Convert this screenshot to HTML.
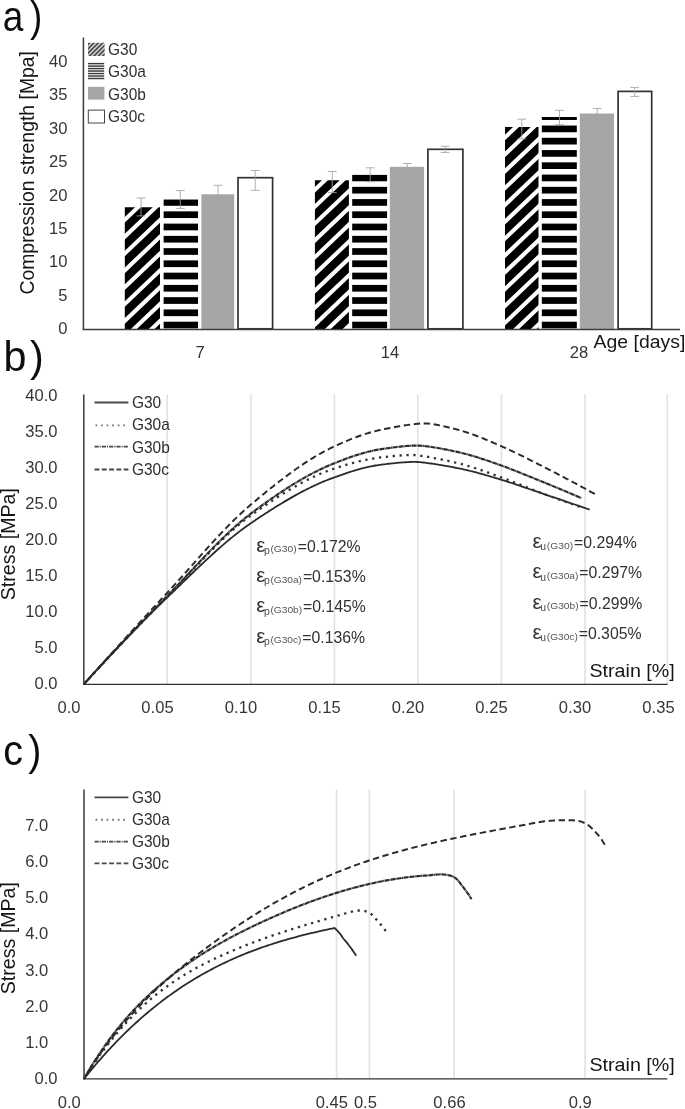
<!DOCTYPE html>
<html lang="en"><head><meta charset="utf-8"><title>Compression strength and stress-strain curves</title>
<style>
html,body{margin:0;padding:0;background:#fff;}
body{width:685px;height:1109px;overflow:hidden;font-family:"Liberation Sans",sans-serif;}
svg{display:block;}
svg text{font-family:"Liberation Sans",sans-serif;}
</style></head><body>
<svg width="685" height="1109" viewBox="0 0 685 1109">
<defs><filter id="soft" filterUnits="userSpaceOnUse" x="0" y="0" width="685" height="1109"><feGaussianBlur stdDeviation="0.4"/></filter></defs>
<rect width="685" height="1109" fill="#fff"/>
<g filter="url(#soft)">
<g id="panel-a">
<text transform="translate(2.8,30.6) scale(0.88,1)" font-size="42" fill="#111">a<tspan dx="7.5">)</tspan></text>
<text transform="translate(67.40,334.40) scale(1.0500,1)" font-size="15.8" fill="#363636" text-anchor="end" >0</text>
<text transform="translate(67.40,300.92) scale(1.0500,1)" font-size="15.8" fill="#363636" text-anchor="end" >5</text>
<text transform="translate(67.40,267.45) scale(1.0500,1)" font-size="15.8" fill="#363636" text-anchor="end" >10</text>
<text transform="translate(67.40,233.97) scale(1.0500,1)" font-size="15.8" fill="#363636" text-anchor="end" >15</text>
<text transform="translate(67.40,200.50) scale(1.0500,1)" font-size="15.8" fill="#363636" text-anchor="end" >20</text>
<text transform="translate(67.40,167.02) scale(1.0500,1)" font-size="15.8" fill="#363636" text-anchor="end" >25</text>
<text transform="translate(67.40,133.55) scale(1.0500,1)" font-size="15.8" fill="#363636" text-anchor="end" >30</text>
<text transform="translate(67.40,100.07) scale(1.0500,1)" font-size="15.8" fill="#363636" text-anchor="end" >35</text>
<text transform="translate(67.40,66.60) scale(1.0500,1)" font-size="15.8" fill="#363636" text-anchor="end" >40</text>
<text transform="translate(33.90,172.80) rotate(-90)" font-size="19.4" fill="#161616" text-anchor="middle" >Compression strength [Mpa]</text>
<text transform="translate(200.00,358.30) scale(1.0500,1)" font-size="15.8" fill="#363636" text-anchor="middle" >7</text>
<text transform="translate(390.00,358.30) scale(1.0500,1)" font-size="15.8" fill="#363636" text-anchor="middle" >14</text>
<text transform="translate(579.00,358.30) scale(1.0500,1)" font-size="15.8" fill="#363636" text-anchor="middle" >28</text>
<text transform="translate(593.60,348.00) scale(1.0500,1)" font-size="18.5" fill="#161616" text-anchor="start" >Age [days]</text>
<clipPath id="c1"><rect x="124.80" y="207.20" width="35.20" height="122.30"/></clipPath>
<g clip-path="url(#c1)" fill="#000">
<polygon points="122.80,190.82 162.00,153.52 162.00,164.72 122.80,202.02"/>
<polygon points="122.80,207.66 162.00,170.36 162.00,181.56 122.80,218.86"/>
<polygon points="122.80,224.50 162.00,187.20 162.00,198.40 122.80,235.70"/>
<polygon points="122.80,241.34 162.00,204.04 162.00,215.24 122.80,252.54"/>
<polygon points="122.80,258.18 162.00,220.88 162.00,232.08 122.80,269.38"/>
<polygon points="122.80,275.02 162.00,237.72 162.00,248.92 122.80,286.22"/>
<polygon points="122.80,291.86 162.00,254.56 162.00,265.76 122.80,303.06"/>
<polygon points="122.80,308.70 162.00,271.40 162.00,282.60 122.80,319.90"/>
<polygon points="122.80,325.54 162.00,288.24 162.00,299.44 122.80,336.74"/>
<polygon points="122.80,342.38 162.00,305.08 162.00,316.28 122.80,353.58"/>
<polygon points="122.80,359.22 162.00,321.92 162.00,333.12 122.80,370.42"/>
<polygon points="122.80,376.06 162.00,338.76 162.00,349.96 122.80,387.26"/>
</g>
<clipPath id="c2"><rect x="163.40" y="199.60" width="34.80" height="129.90"/></clipPath>
<g clip-path="url(#c2)" fill="#000">
<rect x="163.40" y="321.70" width="34.80" height="6.70"/>
<rect x="163.40" y="309.44" width="34.80" height="6.70"/>
<rect x="163.40" y="297.18" width="34.80" height="6.70"/>
<rect x="163.40" y="284.92" width="34.80" height="6.70"/>
<rect x="163.40" y="272.66" width="34.80" height="6.70"/>
<rect x="163.40" y="260.40" width="34.80" height="6.70"/>
<rect x="163.40" y="248.14" width="34.80" height="6.70"/>
<rect x="163.40" y="235.88" width="34.80" height="6.70"/>
<rect x="163.40" y="223.62" width="34.80" height="6.70"/>
<rect x="163.40" y="211.36" width="34.80" height="6.70"/>
<rect x="163.40" y="199.10" width="34.80" height="6.70"/>
</g>
<rect x="201.40" y="194.30" width="32.80" height="135.20" fill="#a6a6a6"/>
<rect x="238.00" y="177.70" width="34.60" height="151.10" fill="#fff" stroke="#333" stroke-width="1.7"/>
<clipPath id="c3"><rect x="314.90" y="180.20" width="34.00" height="149.30"/></clipPath>
<g clip-path="url(#c3)" fill="#000">
<polygon points="312.90,160.81 350.90,124.65 350.90,135.85 312.90,172.00"/>
<polygon points="312.90,177.65 350.90,141.49 350.90,152.69 312.90,188.84"/>
<polygon points="312.90,194.49 350.90,158.33 350.90,169.53 312.90,205.68"/>
<polygon points="312.90,211.33 350.90,175.17 350.90,186.37 312.90,222.52"/>
<polygon points="312.90,228.17 350.90,192.01 350.90,203.21 312.90,239.36"/>
<polygon points="312.90,245.01 350.90,208.85 350.90,220.05 312.90,256.20"/>
<polygon points="312.90,261.85 350.90,225.69 350.90,236.89 312.90,273.04"/>
<polygon points="312.90,278.69 350.90,242.53 350.90,253.73 312.90,289.88"/>
<polygon points="312.90,295.53 350.90,259.37 350.90,270.57 312.90,306.72"/>
<polygon points="312.90,312.37 350.90,276.21 350.90,287.41 312.90,323.56"/>
<polygon points="312.90,329.21 350.90,293.05 350.90,304.25 312.90,340.40"/>
<polygon points="312.90,346.05 350.90,309.89 350.90,321.09 312.90,357.24"/>
<polygon points="312.90,362.89 350.90,326.73 350.90,337.93 312.90,374.08"/>
<polygon points="312.90,379.73 350.90,343.57 350.90,354.77 312.90,390.92"/>
</g>
<clipPath id="c4"><rect x="352.10" y="174.70" width="35.20" height="154.80"/></clipPath>
<g clip-path="url(#c4)" fill="#000">
<rect x="352.10" y="321.70" width="35.20" height="6.70"/>
<rect x="352.10" y="309.44" width="35.20" height="6.70"/>
<rect x="352.10" y="297.18" width="35.20" height="6.70"/>
<rect x="352.10" y="284.92" width="35.20" height="6.70"/>
<rect x="352.10" y="272.66" width="35.20" height="6.70"/>
<rect x="352.10" y="260.40" width="35.20" height="6.70"/>
<rect x="352.10" y="248.14" width="35.20" height="6.70"/>
<rect x="352.10" y="235.88" width="35.20" height="6.70"/>
<rect x="352.10" y="223.62" width="35.20" height="6.70"/>
<rect x="352.10" y="211.36" width="35.20" height="6.70"/>
<rect x="352.10" y="199.10" width="35.20" height="6.70"/>
<rect x="352.10" y="186.84" width="35.20" height="6.70"/>
<rect x="352.10" y="174.58" width="35.20" height="6.70"/>
</g>
<rect x="389.80" y="166.80" width="34.30" height="162.70" fill="#a6a6a6"/>
<rect x="427.90" y="149.30" width="35.00" height="179.50" fill="#fff" stroke="#333" stroke-width="1.7"/>
<clipPath id="c5"><rect x="505.00" y="127.10" width="33.50" height="202.40"/></clipPath>
<g clip-path="url(#c5)" fill="#000">
<polygon points="503.00,108.52 540.50,72.84 540.50,84.04 503.00,119.71"/>
<polygon points="503.00,125.36 540.50,89.68 540.50,100.88 503.00,136.55"/>
<polygon points="503.00,142.20 540.50,106.52 540.50,117.72 503.00,153.39"/>
<polygon points="503.00,159.04 540.50,123.36 540.50,134.56 503.00,170.23"/>
<polygon points="503.00,175.88 540.50,140.20 540.50,151.40 503.00,187.07"/>
<polygon points="503.00,192.72 540.50,157.04 540.50,168.24 503.00,203.91"/>
<polygon points="503.00,209.56 540.50,173.88 540.50,185.08 503.00,220.75"/>
<polygon points="503.00,226.40 540.50,190.72 540.50,201.92 503.00,237.59"/>
<polygon points="503.00,243.24 540.50,207.56 540.50,218.76 503.00,254.43"/>
<polygon points="503.00,260.08 540.50,224.40 540.50,235.60 503.00,271.27"/>
<polygon points="503.00,276.92 540.50,241.24 540.50,252.44 503.00,288.11"/>
<polygon points="503.00,293.76 540.50,258.08 540.50,269.28 503.00,304.95"/>
<polygon points="503.00,310.60 540.50,274.92 540.50,286.12 503.00,321.79"/>
<polygon points="503.00,327.44 540.50,291.76 540.50,302.96 503.00,338.63"/>
<polygon points="503.00,344.28 540.50,308.60 540.50,319.80 503.00,355.47"/>
<polygon points="503.00,361.12 540.50,325.44 540.50,336.64 503.00,372.31"/>
<polygon points="503.00,377.96 540.50,342.28 540.50,353.48 503.00,389.15"/>
</g>
<clipPath id="c6"><rect x="541.60" y="117.00" width="35.30" height="212.50"/></clipPath>
<g clip-path="url(#c6)" fill="#000">
<rect x="541.60" y="321.70" width="35.30" height="6.70"/>
<rect x="541.60" y="309.44" width="35.30" height="6.70"/>
<rect x="541.60" y="297.18" width="35.30" height="6.70"/>
<rect x="541.60" y="284.92" width="35.30" height="6.70"/>
<rect x="541.60" y="272.66" width="35.30" height="6.70"/>
<rect x="541.60" y="260.40" width="35.30" height="6.70"/>
<rect x="541.60" y="248.14" width="35.30" height="6.70"/>
<rect x="541.60" y="235.88" width="35.30" height="6.70"/>
<rect x="541.60" y="223.62" width="35.30" height="6.70"/>
<rect x="541.60" y="211.36" width="35.30" height="6.70"/>
<rect x="541.60" y="199.10" width="35.30" height="6.70"/>
<rect x="541.60" y="186.84" width="35.30" height="6.70"/>
<rect x="541.60" y="174.58" width="35.30" height="6.70"/>
<rect x="541.60" y="162.32" width="35.30" height="6.70"/>
<rect x="541.60" y="150.06" width="35.30" height="6.70"/>
<rect x="541.60" y="137.80" width="35.30" height="6.70"/>
<rect x="541.60" y="125.54" width="35.30" height="6.70"/>
<rect x="541.60" y="113.28" width="35.30" height="6.70"/>
</g>
<rect x="579.80" y="113.50" width="34.20" height="216.00" fill="#a6a6a6"/>
<rect x="618.10" y="91.40" width="33.60" height="237.40" fill="#fff" stroke="#333" stroke-width="1.7"/>
<line x1="83.40" y1="37.60" x2="83.40" y2="329.50" stroke="#3a3a3a" stroke-width="1.5" />
<line x1="82.70" y1="329.60" x2="680.00" y2="329.60" stroke="#3c3c3c" stroke-width="1.5" />
<path d="M141.00 198.00V215.90M136.60 198.00H145.40M136.60 215.90H145.40" stroke="#a0a0a0" stroke-width="0.85" fill="none"/>
<path d="M180.30 190.60V208.40M175.90 190.60H184.70M175.90 208.40H184.70" stroke="#a0a0a0" stroke-width="0.85" fill="none"/>
<path d="M218.00 185.30V202.70M213.60 185.30H222.40M213.60 202.70H222.40" stroke="#a0a0a0" stroke-width="0.85" fill="none"/>
<path d="M255.20 170.50V190.30M250.80 170.50H259.60M250.80 190.30H259.60" stroke="#a0a0a0" stroke-width="0.85" fill="none"/>
<path d="M332.30 171.50V192.60M327.90 171.50H336.70M327.90 192.60H336.70" stroke="#a0a0a0" stroke-width="0.85" fill="none"/>
<path d="M370.20 167.80V181.70M365.80 167.80H374.60M365.80 181.70H374.60" stroke="#a0a0a0" stroke-width="0.85" fill="none"/>
<path d="M407.20 163.50V170.50M402.80 163.50H411.60M402.80 170.50H411.60" stroke="#a0a0a0" stroke-width="0.85" fill="none"/>
<path d="M445.20 146.20V152.40M440.80 146.20H449.60M440.80 152.40H449.60" stroke="#a0a0a0" stroke-width="0.85" fill="none"/>
<path d="M521.80 119.20V138.80M517.40 119.20H526.20M517.40 138.80H526.20" stroke="#a0a0a0" stroke-width="0.85" fill="none"/>
<path d="M559.50 110.30V124.70M555.10 110.30H563.90M555.10 124.70H563.90" stroke="#a0a0a0" stroke-width="0.85" fill="none"/>
<path d="M597.20 108.50V119.20M592.80 108.50H601.60M592.80 119.20H601.60" stroke="#a0a0a0" stroke-width="0.85" fill="none"/>
<path d="M634.70 87.40V96.40M630.30 87.40H639.10M630.30 96.40H639.10" stroke="#a0a0a0" stroke-width="0.85" fill="none"/>
<clipPath id="lg1"><rect x="88.0" y="42.8" width="16.60" height="13.2"/></clipPath>
<rect x="88" y="42.8" width="16.6" height="13.2" fill="#cfcfcf"/>
<g clip-path="url(#lg1)">
<line x1="66.60" y1="57.00" x2="81.60" y2="42.00" stroke="#444" stroke-width="1.55" />
<line x1="71.00" y1="57.00" x2="86.00" y2="42.00" stroke="#444" stroke-width="1.55" />
<line x1="75.40" y1="57.00" x2="90.40" y2="42.00" stroke="#444" stroke-width="1.55" />
<line x1="79.80" y1="57.00" x2="94.80" y2="42.00" stroke="#444" stroke-width="1.55" />
<line x1="84.20" y1="57.00" x2="99.20" y2="42.00" stroke="#444" stroke-width="1.55" />
<line x1="88.60" y1="57.00" x2="103.60" y2="42.00" stroke="#444" stroke-width="1.55" />
<line x1="93.00" y1="57.00" x2="108.00" y2="42.00" stroke="#444" stroke-width="1.55" />
<line x1="97.40" y1="57.00" x2="112.40" y2="42.00" stroke="#444" stroke-width="1.55" />
<line x1="101.80" y1="57.00" x2="116.80" y2="42.00" stroke="#444" stroke-width="1.55" />
<line x1="106.20" y1="57.00" x2="121.20" y2="42.00" stroke="#444" stroke-width="1.55" />
<line x1="110.60" y1="57.00" x2="125.60" y2="42.00" stroke="#444" stroke-width="1.55" />
<line x1="115.00" y1="57.00" x2="130.00" y2="42.00" stroke="#444" stroke-width="1.55" />
<line x1="119.40" y1="57.00" x2="134.40" y2="42.00" stroke="#444" stroke-width="1.55" />
</g>
<rect x="88.0" y="62.90" width="16.20" height="1.45" fill="#3a3a3a"/>
<rect x="88.0" y="65.38" width="16.20" height="1.45" fill="#3a3a3a"/>
<rect x="88.0" y="67.86" width="16.20" height="1.45" fill="#3a3a3a"/>
<rect x="88.0" y="70.34" width="16.20" height="1.45" fill="#3a3a3a"/>
<rect x="88.0" y="72.82" width="16.20" height="1.45" fill="#3a3a3a"/>
<rect x="88.0" y="75.30" width="16.20" height="1.45" fill="#3a3a3a"/>
<rect x="88.0" y="77.78" width="16.20" height="1.45" fill="#3a3a3a"/>
<rect x="88.0" y="86.8" width="16.40" height="12.8" fill="#a6a6a6"/>
<rect x="88.3" y="110.1" width="16.20" height="12.9" fill="#fff" stroke="#444" stroke-width="1"/>
<text transform="translate(108.00,55.40) scale(0.9800,1)" font-size="15.8" fill="#2e2e2e" text-anchor="start" >G30</text>
<text transform="translate(108.00,77.40) scale(0.9800,1)" font-size="15.8" fill="#2e2e2e" text-anchor="start" >G30a</text>
<text transform="translate(108.00,99.70) scale(0.9800,1)" font-size="15.8" fill="#2e2e2e" text-anchor="start" >G30b</text>
<text transform="translate(108.00,122.30) scale(0.9800,1)" font-size="15.8" fill="#2e2e2e" text-anchor="start" >G30c</text>
</g>
<g id="panel-b">
<text transform="translate(3.6,370.6) scale(0.96,1)" font-size="43" fill="#111">b<tspan dx="3.6">)</tspan></text>
<line x1="167.15" y1="394.40" x2="167.15" y2="684.40" stroke="#e3e3e3" stroke-width="1.7" />
<line x1="250.80" y1="394.40" x2="250.80" y2="684.40" stroke="#e3e3e3" stroke-width="1.7" />
<line x1="334.40" y1="394.40" x2="334.40" y2="684.40" stroke="#e3e3e3" stroke-width="1.7" />
<line x1="417.80" y1="394.40" x2="417.80" y2="684.40" stroke="#e3e3e3" stroke-width="1.7" />
<line x1="501.40" y1="394.40" x2="501.40" y2="684.40" stroke="#e3e3e3" stroke-width="1.7" />
<line x1="585.00" y1="394.40" x2="585.00" y2="684.40" stroke="#e3e3e3" stroke-width="1.7" />
<line x1="667.30" y1="394.40" x2="667.30" y2="684.40" stroke="#e3e3e3" stroke-width="1.7" />
<text transform="translate(57.60,689.40) scale(1.0500,1)" font-size="15.8" fill="#363636" text-anchor="end" >0.0</text>
<text transform="translate(57.60,653.32) scale(1.0500,1)" font-size="15.8" fill="#363636" text-anchor="end" >5.0</text>
<text transform="translate(57.60,617.25) scale(1.0500,1)" font-size="15.8" fill="#363636" text-anchor="end" >10.0</text>
<text transform="translate(57.60,581.17) scale(1.0500,1)" font-size="15.8" fill="#363636" text-anchor="end" >15.0</text>
<text transform="translate(57.60,545.10) scale(1.0500,1)" font-size="15.8" fill="#363636" text-anchor="end" >20.0</text>
<text transform="translate(57.60,509.02) scale(1.0500,1)" font-size="15.8" fill="#363636" text-anchor="end" >25.0</text>
<text transform="translate(57.60,472.95) scale(1.0500,1)" font-size="15.8" fill="#363636" text-anchor="end" >30.0</text>
<text transform="translate(57.60,436.88) scale(1.0500,1)" font-size="15.8" fill="#363636" text-anchor="end" >35.0</text>
<text transform="translate(57.60,400.80) scale(1.0500,1)" font-size="15.8" fill="#363636" text-anchor="end" >40.0</text>
<text transform="translate(15.00,544.20) rotate(-90)" font-size="19.6" fill="#161616" text-anchor="middle" >Stress [MPa]</text>
<text transform="translate(69.00,712.50) scale(1.0500,1)" font-size="15.8" fill="#363636" text-anchor="middle" >0.0</text>
<text transform="translate(157.50,712.50) scale(1.0500,1)" font-size="15.8" fill="#363636" text-anchor="middle" >0.05</text>
<text transform="translate(241.00,712.50) scale(1.0500,1)" font-size="15.8" fill="#363636" text-anchor="middle" >0.10</text>
<text transform="translate(324.50,712.50) scale(1.0500,1)" font-size="15.8" fill="#363636" text-anchor="middle" >0.15</text>
<text transform="translate(408.00,712.50) scale(1.0500,1)" font-size="15.8" fill="#363636" text-anchor="middle" >0.20</text>
<text transform="translate(491.50,712.50) scale(1.0500,1)" font-size="15.8" fill="#363636" text-anchor="middle" >0.25</text>
<text transform="translate(575.00,712.50) scale(1.0500,1)" font-size="15.8" fill="#363636" text-anchor="middle" >0.30</text>
<text transform="translate(658.50,712.50) scale(1.0500,1)" font-size="15.8" fill="#363636" text-anchor="middle" >0.35</text>
<text transform="translate(589.40,677.00) scale(1.0600,1)" font-size="18.6" fill="#161616" text-anchor="start" >Strain [%]</text>
<path d="M84.00 684.00 L85.00 682.88 L86.01 681.77 L87.01 680.66 L88.02 679.54 L89.02 678.43 L90.03 677.32 L91.03 676.20 L92.04 675.09 L93.05 673.98 L94.06 672.87 L95.07 671.76 L96.08 670.66 L97.09 669.55 L98.11 668.44 L99.12 667.34 L100.14 666.23 L101.15 665.13 L102.17 664.03 L103.19 662.93 L104.20 661.82 L105.22 660.72 L106.24 659.62 L107.26 658.53 L108.29 657.43 L109.31 656.33 L110.33 655.23 L111.36 654.14 L112.39 653.05 L113.41 651.95 L114.44 650.86 L115.47 649.77 L116.50 648.68 L117.53 647.59 L118.56 646.50 L119.59 645.41 L120.63 644.32 L121.66 643.24 L122.70 642.15 L123.73 641.07 L124.77 639.99 L125.81 638.90 L126.85 637.82 L127.89 636.74 L128.93 635.66 L129.98 634.59 L131.02 633.51 L132.07 632.43 L133.11 631.36 L134.16 630.28 L135.21 629.21 L136.26 628.14 L137.31 627.07 L138.36 626.00 L139.41 624.93 L140.46 623.86 L141.52 622.79 L142.57 621.73 L143.63 620.66 L144.69 619.60 L145.75 618.54 L146.81 617.48 L147.87 616.42 L148.93 615.36 L149.99 614.30 L151.06 613.24 L152.13 612.19 L153.19 611.13 L154.26 610.08 L155.33 609.03 L156.40 607.98 L157.47 606.93 L158.54 605.88 L159.62 604.83 L160.69 603.79 L161.77 602.74 L162.85 601.70 L163.93 600.66 L165.01 599.61 L166.09 598.57 L167.17 597.53 L168.25 596.49 L169.33 595.45 L170.41 594.41 L171.49 593.37 L172.57 592.33 L173.65 591.29 L174.73 590.25 L175.80 589.20 L176.88 588.16 L177.96 587.12 L179.04 586.07 L180.12 585.03 L181.19 583.99 L182.27 582.94 L183.35 581.90 L184.42 580.85 L185.50 579.81 L186.58 578.77 L187.66 577.73 L188.74 576.68 L189.82 575.64 L190.90 574.60 L191.98 573.56 L193.06 572.52 L194.14 571.48 L195.22 570.44 L196.31 569.41 L197.39 568.37 L198.48 567.34 L199.57 566.30 L200.65 565.27 L201.75 564.24 L202.84 563.21 L203.93 562.19 L205.02 561.16 L206.12 560.14 L207.22 559.12 L208.32 558.10 L209.42 557.08 L210.53 556.06 L211.63 555.05 L212.74 554.04 L213.85 553.03 L214.97 552.03 L216.08 551.03 L217.20 550.03 L218.32 549.03 L219.45 548.04 L220.57 547.05 L221.70 546.06 L222.84 545.08 L223.97 544.10 L225.11 543.12 L226.25 542.15 L227.40 541.18 L228.55 540.22 L229.70 539.26 L230.86 538.31 L232.02 537.36 L233.19 536.41 L234.36 535.47 L235.53 534.54 L236.71 533.61 L237.89 532.69 L239.08 531.77 L240.27 530.86 L241.47 529.96 L242.67 529.06 L243.88 528.17 L245.09 527.29 L246.30 526.41 L247.53 525.54 L248.75 524.68 L249.99 523.82 L251.22 522.97 L252.46 522.13 L253.70 521.29 L254.94 520.45 L256.19 519.61 L257.44 518.78 L258.68 517.94 L259.93 517.12 L261.19 516.29 L262.44 515.46 L263.69 514.64 L264.95 513.82 L266.21 513.00 L267.47 512.19 L268.73 511.38 L269.99 510.57 L271.26 509.76 L272.52 508.96 L273.79 508.16 L275.06 507.36 L276.34 506.57 L277.61 505.78 L278.89 504.99 L280.17 504.21 L281.45 503.43 L282.73 502.66 L284.02 501.89 L285.31 501.12 L286.60 500.36 L287.90 499.60 L289.19 498.85 L290.49 498.10 L291.80 497.35 L293.10 496.62 L294.41 495.88 L295.72 495.15 L297.03 494.43 L298.35 493.71 L299.67 493.00 L300.99 492.29 L302.32 491.59 L303.65 490.90 L304.98 490.21 L306.32 489.53 L307.66 488.86 L309.00 488.19 L310.35 487.53 L311.70 486.87 L313.05 486.23 L314.41 485.59 L315.77 484.96 L317.13 484.33 L318.50 483.72 L319.87 483.11 L321.25 482.52 L322.63 481.93 L324.01 481.35 L325.40 480.78 L326.79 480.21 L328.18 479.66 L329.58 479.12 L330.98 478.59 L332.39 478.06 L333.80 477.54 L335.21 477.03 L336.62 476.53 L338.03 476.03 L339.45 475.53 L340.87 475.04 L342.28 474.55 L343.70 474.07 L345.12 473.58 L346.55 473.11 L347.97 472.64 L349.40 472.17 L350.82 471.71 L352.25 471.26 L353.69 470.82 L355.12 470.38 L356.56 469.95 L358.00 469.53 L359.44 469.13 L360.89 468.73 L362.34 468.35 L363.79 467.97 L365.25 467.61 L366.70 467.27 L368.17 466.93 L369.63 466.62 L371.10 466.31 L372.57 466.03 L374.05 465.76 L375.53 465.51 L377.01 465.27 L378.49 465.05 L379.97 464.84 L381.46 464.65 L382.95 464.46 L384.44 464.28 L385.93 464.10 L387.42 463.92 L388.91 463.75 L390.40 463.59 L391.89 463.43 L393.38 463.27 L394.87 463.12 L396.37 462.97 L397.86 462.83 L399.35 462.70 L400.85 462.57 L402.34 462.46 L403.84 462.35 L405.34 462.25 L406.83 462.16 L408.33 462.08 L409.83 462.02 L411.33 461.97 L412.82 461.93 L414.32 461.93 L415.82 461.95 L417.31 462.00 L418.81 462.09 L420.30 462.20 L421.79 462.35 L423.28 462.51 L424.77 462.69 L426.26 462.88 L427.75 463.08 L429.23 463.28 L430.72 463.49 L432.20 463.71 L433.68 463.93 L435.17 464.15 L436.65 464.38 L438.13 464.62 L439.61 464.86 L441.09 465.11 L442.57 465.36 L444.05 465.61 L445.53 465.87 L447.00 466.13 L448.48 466.40 L449.95 466.67 L451.43 466.94 L452.90 467.22 L454.38 467.50 L455.85 467.79 L457.32 468.08 L458.79 468.38 L460.26 468.68 L461.73 468.99 L463.19 469.30 L464.66 469.62 L466.12 469.96 L467.58 470.30 L469.04 470.64 L470.50 471.00 L471.95 471.36 L473.41 471.73 L474.86 472.11 L476.31 472.49 L477.76 472.88 L479.20 473.28 L480.65 473.68 L482.09 474.08 L483.54 474.49 L484.98 474.90 L486.42 475.32 L487.86 475.74 L489.30 476.16 L490.74 476.58 L492.18 477.01 L493.61 477.44 L495.05 477.87 L496.49 478.30 L497.92 478.73 L499.36 479.16 L500.80 479.60 L502.23 480.03 L503.67 480.48 L505.10 480.92 L506.53 481.37 L507.96 481.82 L509.39 482.28 L510.81 482.74 L512.24 483.21 L513.66 483.68 L515.09 484.15 L516.51 484.63 L517.93 485.11 L519.35 485.59 L520.77 486.08 L522.19 486.56 L523.61 487.05 L525.02 487.54 L526.44 488.03 L527.86 488.52 L529.28 489.01 L530.69 489.50 L532.11 489.99 L533.53 490.48 L534.95 490.97 L536.37 491.46 L537.79 491.94 L539.21 492.43 L540.63 492.91 L542.05 493.39 L543.47 493.87 L544.89 494.35 L546.31 494.83 L547.73 495.32 L549.15 495.80 L550.57 496.28 L551.99 496.76 L553.41 497.24 L554.83 497.72 L556.25 498.21 L557.67 498.69 L559.09 499.17 L560.51 499.65 L561.93 500.14 L563.35 500.62 L564.77 501.10 L566.19 501.59 L567.61 502.07 L569.03 502.56 L570.45 503.04 L571.87 503.53 L573.29 504.01 L574.71 504.50 L576.13 504.98 L577.55 505.47 L578.97 505.95 L580.38 506.44 L581.79 506.92 L583.18 507.40 L584.55 507.86 L585.87 508.32 L587.15 508.76 L588.39 509.18 L589.60 509.60" fill="none" stroke="#2c2c2c" stroke-width="1.8" stroke-linejoin="round" />
<path d="M84.00 684.00 L85.01 682.89 L86.03 681.79 L87.04 680.68 L88.06 679.58 L89.07 678.47 L90.09 677.37 L91.10 676.27 L92.12 675.16 L93.14 674.06 L94.15 672.96 L95.17 671.86 L96.19 670.76 L97.21 669.65 L98.23 668.55 L99.25 667.45 L100.27 666.35 L101.29 665.26 L102.31 664.16 L103.33 663.06 L104.35 661.96 L105.38 660.86 L106.40 659.77 L107.42 658.67 L108.45 657.58 L109.47 656.48 L110.50 655.39 L111.52 654.29 L112.55 653.20 L113.58 652.10 L114.61 651.01 L115.63 649.92 L116.66 648.83 L117.69 647.74 L118.72 646.64 L119.75 645.55 L120.78 644.46 L121.81 643.38 L122.84 642.29 L123.88 641.20 L124.91 640.11 L125.94 639.02 L126.98 637.94 L128.01 636.85 L129.05 635.76 L130.08 634.68 L131.12 633.59 L132.15 632.51 L133.19 631.43 L134.23 630.34 L135.27 629.26 L136.31 628.18 L137.34 627.10 L138.38 626.02 L139.43 624.93 L140.47 623.85 L141.51 622.78 L142.55 621.70 L143.59 620.62 L144.64 619.54 L145.68 618.46 L146.72 617.39 L147.77 616.31 L148.81 615.23 L149.86 614.16 L150.91 613.08 L151.95 612.01 L153.00 610.94 L154.05 609.86 L155.10 608.79 L156.15 607.72 L157.20 606.65 L158.25 605.58 L159.30 604.51 L160.35 603.44 L161.40 602.37 L162.46 601.30 L163.51 600.23 L164.56 599.17 L165.62 598.10 L166.67 597.03 L167.72 595.96 L168.78 594.89 L169.83 593.82 L170.88 592.75 L171.92 591.68 L172.97 590.60 L174.01 589.52 L175.05 588.45 L176.10 587.37 L177.14 586.28 L178.17 585.20 L179.21 584.12 L180.25 583.03 L181.28 581.95 L182.32 580.86 L183.35 579.77 L184.38 578.69 L185.41 577.60 L186.44 576.51 L187.48 575.42 L188.51 574.33 L189.54 573.24 L190.57 572.15 L191.60 571.06 L192.63 569.97 L193.66 568.88 L194.69 567.79 L195.72 566.70 L196.76 565.61 L197.79 564.53 L198.82 563.44 L199.86 562.36 L200.90 561.27 L201.93 560.19 L202.97 559.10 L204.01 558.02 L205.05 556.94 L206.09 555.86 L207.14 554.79 L208.18 553.71 L209.23 552.64 L210.28 551.57 L211.33 550.50 L212.39 549.43 L213.44 548.37 L214.50 547.30 L215.56 546.24 L216.63 545.19 L217.69 544.13 L218.76 543.08 L219.84 542.03 L220.91 540.99 L221.99 539.95 L223.08 538.91 L224.16 537.87 L225.25 536.84 L226.35 535.82 L227.45 534.80 L228.55 533.78 L229.66 532.77 L230.77 531.76 L231.88 530.76 L233.01 529.77 L234.13 528.78 L235.26 527.79 L236.40 526.81 L237.54 525.84 L238.69 524.88 L239.85 523.92 L241.01 522.97 L242.17 522.03 L243.35 521.09 L244.53 520.17 L245.72 519.25 L246.91 518.34 L248.11 517.44 L249.32 516.55 L250.53 515.67 L251.74 514.79 L252.96 513.92 L254.19 513.05 L255.41 512.19 L256.64 511.32 L257.87 510.46 L259.10 509.61 L260.33 508.75 L261.56 507.90 L262.80 507.05 L264.04 506.20 L265.28 505.35 L266.52 504.51 L267.76 503.67 L269.00 502.83 L270.25 502.00 L271.50 501.17 L272.75 500.34 L274.00 499.51 L275.26 498.69 L276.52 497.88 L277.78 497.06 L279.04 496.25 L280.31 495.45 L281.57 494.65 L282.84 493.85 L284.12 493.06 L285.40 492.27 L286.67 491.49 L287.96 490.71 L289.24 489.94 L290.53 489.17 L291.82 488.41 L293.12 487.66 L294.42 486.91 L295.72 486.16 L297.03 485.43 L298.34 484.70 L299.65 483.97 L300.97 483.25 L302.29 482.54 L303.61 481.84 L304.94 481.14 L306.28 480.46 L307.61 479.78 L308.95 479.11 L310.30 478.44 L311.65 477.79 L313.00 477.14 L314.36 476.51 L315.72 475.88 L317.09 475.26 L318.46 474.66 L319.84 474.06 L321.22 473.47 L322.60 472.90 L323.99 472.34 L325.39 471.78 L326.79 471.24 L328.19 470.72 L329.60 470.20 L331.01 469.70 L332.43 469.20 L333.85 468.72 L335.27 468.25 L336.70 467.78 L338.12 467.33 L339.55 466.87 L340.99 466.43 L342.42 465.99 L343.86 465.55 L345.29 465.12 L346.73 464.70 L348.17 464.28 L349.61 463.87 L351.06 463.47 L352.51 463.07 L353.96 462.69 L355.41 462.31 L356.86 461.94 L358.31 461.57 L359.77 461.22 L361.23 460.88 L362.70 460.55 L364.16 460.22 L365.63 459.91 L367.10 459.61 L368.57 459.33 L370.04 459.05 L371.52 458.79 L373.00 458.54 L374.48 458.30 L375.96 458.08 L377.45 457.87 L378.93 457.67 L380.42 457.48 L381.91 457.30 L383.40 457.12 L384.89 456.95 L386.38 456.78 L387.87 456.62 L389.36 456.46 L390.85 456.30 L392.35 456.15 L393.84 456.01 L395.33 455.87 L396.83 455.74 L398.32 455.61 L399.82 455.49 L401.31 455.38 L402.81 455.28 L404.30 455.19 L405.80 455.11 L407.30 455.04 L408.80 455.00 L410.29 454.97 L411.79 454.98 L413.28 455.02 L414.78 455.11 L416.27 455.23 L417.76 455.38 L419.24 455.57 L420.73 455.77 L422.21 455.99 L423.69 456.21 L425.17 456.45 L426.65 456.69 L428.13 456.94 L429.61 457.20 L431.09 457.46 L432.56 457.73 L434.04 458.01 L435.51 458.29 L436.98 458.57 L438.45 458.87 L439.92 459.16 L441.39 459.47 L442.86 459.77 L444.33 460.09 L445.79 460.40 L447.26 460.73 L448.72 461.05 L450.19 461.38 L451.65 461.72 L453.11 462.06 L454.57 462.40 L456.03 462.75 L457.49 463.11 L458.94 463.46 L460.40 463.83 L461.85 464.21 L463.30 464.59 L464.75 464.98 L466.19 465.39 L467.63 465.80 L469.07 466.23 L470.50 466.66 L471.94 467.11 L473.37 467.56 L474.79 468.02 L476.22 468.49 L477.64 468.96 L479.06 469.45 L480.48 469.93 L481.90 470.42 L483.31 470.92 L484.73 471.42 L486.14 471.92 L487.55 472.43 L488.96 472.94 L490.37 473.45 L491.78 473.96 L493.19 474.48 L494.60 474.99 L496.01 475.51 L497.42 476.02 L498.83 476.53 L500.24 477.05 L501.65 477.56 L503.06 478.08 L504.46 478.60 L505.87 479.12 L507.27 479.65 L508.67 480.19 L510.07 480.72 L511.47 481.26 L512.87 481.81 L514.27 482.36 L515.66 482.91 L517.06 483.46 L518.45 484.01 L519.84 484.57 L521.24 485.13 L522.63 485.68 L524.02 486.24 L525.41 486.80 L526.81 487.35 L528.20 487.91 L529.60 488.46 L530.99 489.01 L532.39 489.56 L533.78 490.11 L535.18 490.65 L536.58 491.19 L537.98 491.72 L539.39 492.26 L540.79 492.78 L542.19 493.31 L543.60 493.84 L545.01 494.36 L546.41 494.88 L547.82 495.40 L549.23 495.92 L550.63 496.43 L552.04 496.95 L553.45 497.46 L554.86 497.98 L556.27 498.49 L557.68 499.00 L559.09 499.51 L560.50 500.02 L561.92 500.52 L563.33 501.03 L564.74 501.53 L566.15 502.04 L567.57 502.54 L568.98 503.04 L570.39 503.54 L571.80 504.03 L573.21 504.52 L574.59 505.01 L575.95 505.48 L577.26 505.94 L578.51 506.37 L579.72 506.79 L580.90 507.20" fill="none" stroke="#333" stroke-width="2.3" stroke-linejoin="round" stroke-dasharray="2.3 4.6"/>
<path d="M84.00 684.00 L85.01 682.89 L86.03 681.79 L87.04 680.68 L88.05 679.58 L89.07 678.47 L90.08 677.37 L91.10 676.26 L92.11 675.16 L93.13 674.05 L94.14 672.95 L95.16 671.85 L96.18 670.74 L97.20 669.64 L98.21 668.54 L99.23 667.44 L100.25 666.34 L101.27 665.24 L102.29 664.14 L103.31 663.04 L104.33 661.94 L105.35 660.84 L106.37 659.74 L107.39 658.64 L108.42 657.55 L109.44 656.45 L110.46 655.35 L111.49 654.26 L112.51 653.16 L113.54 652.06 L114.56 650.97 L115.59 649.88 L116.61 648.78 L117.64 647.69 L118.67 646.59 L119.69 645.50 L120.72 644.41 L121.75 643.32 L122.78 642.22 L123.81 641.13 L124.84 640.04 L125.87 638.95 L126.90 637.86 L127.93 636.77 L128.96 635.68 L129.99 634.60 L131.03 633.51 L132.06 632.42 L133.09 631.33 L134.13 630.25 L135.16 629.16 L136.20 628.08 L137.23 626.99 L138.27 625.91 L139.30 624.82 L140.34 623.74 L141.38 622.65 L142.42 621.57 L143.45 620.49 L144.49 619.41 L145.53 618.32 L146.57 617.24 L147.61 616.16 L148.65 615.08 L149.70 614.00 L150.74 612.92 L151.78 611.85 L152.82 610.77 L153.87 609.69 L154.91 608.61 L155.95 607.54 L157.00 606.46 L158.04 605.38 L159.09 604.31 L160.14 603.23 L161.18 602.16 L162.23 601.09 L163.28 600.01 L164.33 598.94 L165.37 597.87 L166.42 596.79 L167.47 595.72 L168.52 594.64 L169.56 593.57 L170.61 592.49 L171.65 591.41 L172.69 590.33 L173.73 589.25 L174.77 588.17 L175.80 587.08 L176.84 586.00 L177.87 584.91 L178.91 583.82 L179.94 582.74 L180.97 581.65 L182.00 580.56 L183.03 579.46 L184.06 578.37 L185.08 577.28 L186.11 576.19 L187.14 575.09 L188.17 574.00 L189.19 572.91 L190.22 571.81 L191.25 570.72 L192.27 569.63 L193.30 568.53 L194.33 567.44 L195.35 566.35 L196.38 565.26 L197.41 564.16 L198.44 563.07 L199.47 561.98 L200.50 560.89 L201.53 559.80 L202.56 558.72 L203.60 557.63 L204.63 556.54 L205.67 555.46 L206.71 554.38 L207.75 553.29 L208.79 552.21 L209.83 551.14 L210.88 550.06 L211.92 548.99 L212.97 547.91 L214.02 546.84 L215.08 545.78 L216.13 544.71 L217.19 543.65 L218.25 542.59 L219.31 541.53 L220.38 540.47 L221.45 539.42 L222.52 538.37 L223.60 537.33 L224.68 536.29 L225.76 535.25 L226.84 534.21 L227.93 533.18 L229.03 532.16 L230.13 531.13 L231.23 530.12 L232.33 529.10 L233.44 528.09 L234.56 527.09 L235.68 526.09 L236.81 525.10 L237.94 524.12 L239.07 523.14 L240.21 522.16 L241.36 521.19 L242.51 520.23 L243.67 519.28 L244.83 518.34 L246.00 517.40 L247.18 516.47 L248.36 515.54 L249.55 514.63 L250.74 513.72 L251.94 512.81 L253.14 511.91 L254.34 511.02 L255.54 510.12 L256.75 509.23 L257.96 508.34 L259.17 507.46 L260.38 506.58 L261.60 505.69 L262.81 504.82 L264.03 503.94 L265.25 503.07 L266.47 502.20 L267.69 501.33 L268.92 500.46 L270.15 499.60 L271.38 498.74 L272.61 497.88 L273.84 497.03 L275.08 496.18 L276.32 495.34 L277.56 494.49 L278.80 493.65 L280.05 492.82 L281.29 491.99 L282.54 491.16 L283.80 490.34 L285.05 489.52 L286.31 488.70 L287.58 487.89 L288.84 487.08 L290.11 486.28 L291.38 485.48 L292.65 484.69 L293.93 483.91 L295.21 483.12 L296.49 482.35 L297.78 481.58 L299.07 480.81 L300.36 480.05 L301.66 479.30 L302.96 478.55 L304.26 477.81 L305.57 477.07 L306.88 476.34 L308.19 475.62 L309.51 474.91 L310.83 474.20 L312.16 473.50 L313.49 472.80 L314.82 472.12 L316.16 471.44 L317.50 470.77 L318.85 470.11 L320.20 469.45 L321.55 468.81 L322.91 468.17 L324.27 467.54 L325.64 466.93 L327.01 466.32 L328.39 465.72 L329.77 465.13 L331.15 464.55 L332.54 463.98 L333.93 463.42 L335.32 462.86 L336.71 462.31 L338.11 461.77 L339.51 461.22 L340.91 460.69 L342.31 460.15 L343.72 459.62 L345.12 459.10 L346.53 458.58 L347.94 458.07 L349.35 457.56 L350.76 457.06 L352.18 456.57 L353.60 456.08 L355.02 455.60 L356.45 455.13 L357.87 454.68 L359.30 454.23 L360.74 453.79 L362.18 453.37 L363.62 452.95 L365.06 452.55 L366.51 452.17 L367.96 451.79 L369.42 451.44 L370.88 451.09 L372.34 450.77 L373.81 450.46 L375.28 450.17 L376.76 449.89 L378.23 449.63 L379.71 449.39 L381.19 449.15 L382.68 448.92 L384.16 448.70 L385.64 448.49 L387.13 448.28 L388.61 448.07 L390.10 447.87 L391.59 447.67 L393.07 447.47 L394.56 447.28 L396.05 447.10 L397.54 446.92 L399.03 446.75 L400.52 446.59 L402.01 446.44 L403.51 446.29 L405.00 446.15 L406.49 446.03 L407.99 445.91 L409.49 445.81 L410.98 445.72 L412.48 445.65 L413.98 445.59 L415.47 445.56 L416.97 445.55 L418.47 445.58 L419.96 445.64 L421.45 445.74 L422.95 445.87 L424.43 446.03 L425.92 446.21 L427.41 446.40 L428.89 446.61 L430.38 446.83 L431.86 447.06 L433.34 447.29 L434.82 447.53 L436.30 447.77 L437.78 448.03 L439.26 448.29 L440.73 448.55 L442.21 448.82 L443.68 449.10 L445.16 449.38 L446.63 449.67 L448.10 449.96 L449.57 450.26 L451.04 450.57 L452.51 450.87 L453.97 451.19 L455.44 451.50 L456.90 451.83 L458.37 452.16 L459.83 452.49 L461.29 452.84 L462.75 453.19 L464.20 453.55 L465.65 453.93 L467.10 454.31 L468.55 454.71 L469.99 455.11 L471.44 455.52 L472.87 455.95 L474.31 456.38 L475.75 456.82 L477.18 457.27 L478.61 457.72 L480.03 458.18 L481.46 458.65 L482.88 459.12 L484.30 459.60 L485.72 460.08 L487.14 460.57 L488.56 461.05 L489.98 461.55 L491.40 462.04 L492.81 462.54 L494.23 463.03 L495.64 463.53 L497.06 464.03 L498.47 464.53 L499.88 465.03 L501.30 465.54 L502.71 466.04 L504.12 466.55 L505.53 467.07 L506.93 467.59 L508.34 468.11 L509.74 468.64 L511.15 469.17 L512.55 469.71 L513.94 470.25 L515.34 470.80 L516.74 471.35 L518.13 471.90 L519.53 472.46 L520.92 473.02 L522.31 473.58 L523.70 474.14 L525.09 474.70 L526.48 475.27 L527.87 475.84 L529.25 476.41 L530.64 476.97 L532.03 477.54 L533.42 478.11 L534.81 478.68 L536.20 479.25 L537.58 479.81 L538.97 480.38 L540.36 480.95 L541.75 481.51 L543.14 482.08 L544.53 482.65 L545.92 483.21 L547.31 483.78 L548.69 484.35 L550.08 484.92 L551.47 485.49 L552.86 486.06 L554.24 486.63 L555.63 487.21 L557.01 487.78 L558.40 488.36 L559.78 488.93 L561.17 489.51 L562.55 490.09 L563.94 490.67 L565.32 491.25 L566.70 491.83 L568.09 492.41 L569.47 492.99 L570.85 493.57 L572.23 494.16 L573.60 494.74 L574.97 495.32 L576.32 495.89 L577.65 496.46 L578.95 497.01 L580.23 497.56 L581.50 498.10" fill="none" stroke="#2c2c2c" stroke-width="2.15" stroke-linejoin="round" stroke-dasharray="4.6 0.4 1.0 0.4"/>
<path d="M84.00 684.00 L85.00 682.88 L86.00 681.77 L87.00 680.65 L88.00 679.53 L89.01 678.42 L90.01 677.30 L91.01 676.18 L92.01 675.07 L93.02 673.95 L94.02 672.84 L95.02 671.72 L96.02 670.61 L97.03 669.49 L98.03 668.38 L99.04 667.26 L100.04 666.15 L101.05 665.03 L102.05 663.92 L103.06 662.81 L104.06 661.69 L105.07 660.58 L106.07 659.47 L107.08 658.36 L108.08 657.24 L109.09 656.13 L110.10 655.02 L111.11 653.91 L112.11 652.80 L113.12 651.68 L114.13 650.57 L115.14 649.46 L116.14 648.35 L117.15 647.24 L118.16 646.13 L119.17 645.02 L120.18 643.91 L121.19 642.80 L122.20 641.69 L123.21 640.59 L124.22 639.48 L125.23 638.37 L126.24 637.26 L127.25 636.15 L128.26 635.04 L129.28 633.94 L130.29 632.83 L131.30 631.72 L132.31 630.62 L133.33 629.51 L134.34 628.40 L135.35 627.30 L136.37 626.19 L137.38 625.09 L138.39 623.98 L139.41 622.88 L140.42 621.77 L141.44 620.67 L142.45 619.56 L143.47 618.46 L144.48 617.35 L145.50 616.25 L146.52 615.15 L147.53 614.04 L148.55 612.94 L149.57 611.84 L150.58 610.74 L151.60 609.63 L152.62 608.53 L153.64 607.43 L154.65 606.33 L155.67 605.23 L156.69 604.13 L157.71 603.03 L158.73 601.93 L159.75 600.83 L160.77 599.73 L161.79 598.63 L162.81 597.53 L163.83 596.43 L164.85 595.33 L165.87 594.23 L166.89 593.13 L167.91 592.03 L168.93 590.93 L169.94 589.82 L170.96 588.72 L171.97 587.61 L172.98 586.51 L174.00 585.40 L175.00 584.29 L176.01 583.18 L177.02 582.06 L178.02 580.95 L179.03 579.83 L180.03 578.72 L181.03 577.60 L182.03 576.49 L183.03 575.37 L184.03 574.25 L185.03 573.13 L186.03 572.01 L187.02 570.89 L188.02 569.77 L189.02 568.65 L190.01 567.53 L191.01 566.40 L192.01 565.28 L193.00 564.16 L194.00 563.04 L194.99 561.92 L195.99 560.80 L196.99 559.68 L197.99 558.56 L198.98 557.44 L199.98 556.32 L200.98 555.20 L201.98 554.08 L202.98 552.96 L203.98 551.84 L204.98 550.73 L205.99 549.61 L206.99 548.50 L208.00 547.39 L209.00 546.27 L210.01 545.16 L211.02 544.06 L212.04 542.95 L213.05 541.84 L214.06 540.74 L215.08 539.64 L216.10 538.53 L217.12 537.44 L218.14 536.34 L219.17 535.24 L220.20 534.15 L221.23 533.06 L222.26 531.97 L223.30 530.89 L224.33 529.81 L225.38 528.73 L226.42 527.65 L227.47 526.58 L228.52 525.51 L229.57 524.44 L230.63 523.38 L231.69 522.32 L232.76 521.26 L233.82 520.21 L234.90 519.16 L235.97 518.11 L237.06 517.07 L238.14 516.04 L239.23 515.01 L240.33 513.98 L241.43 512.96 L242.53 511.95 L243.64 510.94 L244.75 509.94 L245.87 508.94 L247.00 507.95 L248.13 506.96 L249.26 505.98 L250.40 505.01 L251.55 504.03 L252.69 503.07 L253.84 502.10 L254.99 501.14 L256.14 500.18 L257.30 499.22 L258.45 498.26 L259.61 497.31 L260.76 496.35 L261.92 495.40 L263.08 494.44 L264.24 493.49 L265.40 492.55 L266.57 491.60 L267.73 490.65 L268.90 489.71 L270.07 488.77 L271.24 487.83 L272.41 486.90 L273.58 485.96 L274.76 485.03 L275.94 484.10 L277.12 483.18 L278.30 482.26 L279.49 481.34 L280.67 480.42 L281.86 479.51 L283.05 478.59 L284.25 477.69 L285.45 476.78 L286.65 475.88 L287.85 474.99 L289.05 474.10 L290.26 473.21 L291.48 472.32 L292.69 471.44 L293.91 470.57 L295.13 469.70 L296.35 468.83 L297.58 467.97 L298.81 467.12 L300.05 466.27 L301.29 465.42 L302.53 464.58 L303.78 463.75 L305.03 462.92 L306.28 462.10 L307.54 461.28 L308.81 460.47 L310.07 459.67 L311.34 458.88 L312.62 458.09 L313.90 457.31 L315.19 456.53 L316.48 455.77 L317.77 455.01 L319.07 454.26 L320.38 453.53 L321.69 452.79 L323.00 452.07 L324.32 451.36 L325.65 450.66 L326.98 449.97 L328.31 449.29 L329.65 448.61 L331.00 447.95 L332.35 447.30 L333.71 446.66 L335.07 446.03 L336.43 445.40 L337.79 444.78 L339.16 444.17 L340.53 443.56 L341.91 442.96 L343.28 442.36 L344.66 441.77 L346.04 441.19 L347.43 440.61 L348.81 440.03 L350.20 439.47 L351.60 438.91 L352.99 438.36 L354.39 437.82 L355.79 437.29 L357.20 436.77 L358.61 436.25 L360.02 435.75 L361.44 435.26 L362.86 434.78 L364.28 434.30 L365.71 433.85 L367.14 433.40 L368.58 432.97 L370.02 432.55 L371.46 432.14 L372.91 431.75 L374.36 431.37 L375.81 431.01 L377.27 430.66 L378.73 430.32 L380.19 429.99 L381.66 429.68 L383.13 429.37 L384.60 429.06 L386.07 428.77 L387.54 428.47 L389.01 428.18 L390.48 427.89 L391.95 427.61 L393.43 427.33 L394.90 427.06 L396.38 426.79 L397.86 426.53 L399.33 426.27 L400.81 426.02 L402.29 425.78 L403.77 425.55 L405.26 425.32 L406.74 425.10 L408.23 424.89 L409.71 424.69 L411.20 424.49 L412.69 424.31 L414.18 424.14 L415.67 423.98 L417.16 423.83 L418.65 423.70 L420.15 423.58 L421.64 423.48 L423.14 423.42 L424.63 423.39 L426.12 423.41 L427.61 423.48 L429.09 423.61 L430.58 423.78 L432.06 423.99 L433.54 424.23 L435.01 424.49 L436.49 424.76 L437.96 425.05 L439.43 425.34 L440.90 425.65 L442.36 425.96 L443.83 426.28 L445.29 426.61 L446.75 426.94 L448.21 427.29 L449.67 427.64 L451.13 427.99 L452.58 428.36 L454.04 428.73 L455.49 429.11 L456.94 429.49 L458.39 429.89 L459.83 430.29 L461.27 430.71 L462.71 431.13 L464.15 431.57 L465.58 432.01 L467.00 432.47 L468.43 432.95 L469.85 433.43 L471.26 433.92 L472.67 434.43 L474.08 434.94 L475.49 435.47 L476.89 436.00 L478.29 436.54 L479.69 437.09 L481.08 437.65 L482.47 438.21 L483.86 438.77 L485.24 439.35 L486.63 439.92 L488.01 440.50 L489.39 441.09 L490.77 441.68 L492.15 442.27 L493.53 442.86 L494.91 443.45 L496.29 444.05 L497.66 444.64 L499.04 445.24 L500.41 445.84 L501.79 446.44 L503.16 447.04 L504.53 447.65 L505.90 448.26 L507.27 448.88 L508.63 449.51 L509.99 450.13 L511.35 450.77 L512.71 451.41 L514.06 452.05 L515.42 452.70 L516.77 453.35 L518.12 454.01 L519.46 454.67 L520.81 455.33 L522.15 455.99 L523.50 456.66 L524.84 457.33 L526.18 458.00 L527.52 458.68 L528.86 459.35 L530.20 460.03 L531.54 460.71 L532.87 461.39 L534.21 462.06 L535.55 462.74 L536.89 463.42 L538.23 464.10 L539.56 464.78 L540.90 465.46 L542.24 466.14 L543.58 466.82 L544.91 467.50 L546.25 468.18 L547.58 468.86 L548.92 469.55 L550.25 470.23 L551.59 470.92 L552.92 471.60 L554.25 472.29 L555.59 472.98 L556.92 473.67 L558.25 474.36 L559.58 475.06 L560.91 475.75 L562.24 476.45 L563.56 477.14 L564.89 477.84 L566.22 478.54 L567.55 479.24 L568.87 479.94 L570.20 480.65 L571.52 481.35 L572.85 482.06 L574.17 482.76 L575.49 483.47 L576.81 484.18 L578.13 484.89 L579.45 485.60 L580.77 486.32 L582.09 487.03 L583.41 487.75 L584.73 488.46 L586.04 489.18 L587.36 489.90 L588.66 490.62 L589.96 491.33 L591.22 492.02 L592.44 492.70 L593.59 493.33 L594.66 493.93 L595.65 494.48 L596.60 495.00" fill="none" stroke="#2c2c2c" stroke-width="1.95" stroke-linejoin="round" stroke-dasharray="6.4 3.6"/>
<line x1="83.80" y1="394.40" x2="83.80" y2="685.00" stroke="#3a3a3a" stroke-width="1.5" />
<line x1="83.10" y1="684.40" x2="667.60" y2="684.40" stroke="#333" stroke-width="1.3" />
<path d="M94.5 402.5H128.4" stroke="#484848" stroke-width="1.8" fill="none"/>
<path d="M95.5 425.4H128.4" stroke="#777" stroke-width="1.9" stroke-dasharray="1.8 3.75" fill="none"/>
<path d="M94.5 446.7H128.4" stroke="#484848" stroke-width="1.7" stroke-dasharray="4.2 1.0 1.1 1.0" fill="none"/>
<path d="M94.5 469.5H128.4" stroke="#484848" stroke-width="1.9" stroke-dasharray="4.9 2.4" fill="none"/>
<text transform="translate(131.90,408.00) scale(0.9800,1)" font-size="15.8" fill="#2e2e2e" text-anchor="start" >G30</text>
<text transform="translate(131.90,430.30) scale(0.9800,1)" font-size="15.8" fill="#2e2e2e" text-anchor="start" >G30a</text>
<text transform="translate(131.90,452.60) scale(0.9800,1)" font-size="15.8" fill="#2e2e2e" text-anchor="start" >G30b</text>
<text transform="translate(131.90,474.90) scale(0.9800,1)" font-size="15.8" fill="#2e2e2e" text-anchor="start" >G30c</text>
<text transform="translate(256.20,551.50)" fill="#303030" font-size="20.5">ε<tspan x="7.7" dy="2.2" font-size="10.4" fill="#4a4a4a">p</tspan><tspan x="14.2" dy="-1.6" font-size="9.3" fill="#555" textLength="26.4" lengthAdjust="spacingAndGlyphs">(G30)</tspan><tspan x="41.5" dy="-0.6" font-size="15.8">=0.172%</tspan></text>
<text transform="translate(256.20,581.90)" fill="#303030" font-size="20.5">ε<tspan x="7.7" dy="2.2" font-size="10.4" fill="#4a4a4a">p</tspan><tspan x="14.2" dy="-1.6" font-size="9.3" fill="#555" textLength="31.6" lengthAdjust="spacingAndGlyphs">(G30a)</tspan><tspan x="46.7" dy="-0.6" font-size="15.8">=0.153%</tspan></text>
<text transform="translate(256.20,612.30)" fill="#303030" font-size="20.5">ε<tspan x="7.7" dy="2.2" font-size="10.4" fill="#4a4a4a">p</tspan><tspan x="14.2" dy="-1.6" font-size="9.3" fill="#555" textLength="31.8" lengthAdjust="spacingAndGlyphs">(G30b)</tspan><tspan x="46.9" dy="-0.6" font-size="15.8">=0.145%</tspan></text>
<text transform="translate(256.20,642.70)" fill="#303030" font-size="20.5">ε<tspan x="7.7" dy="2.2" font-size="10.4" fill="#4a4a4a">p</tspan><tspan x="14.2" dy="-1.6" font-size="9.3" fill="#555" textLength="31.0" lengthAdjust="spacingAndGlyphs">(G30c)</tspan><tspan x="46.1" dy="-0.6" font-size="15.8">=0.136%</tspan></text>
<text transform="translate(532.60,548.00)" fill="#303030" font-size="20.5">ε<tspan x="7.7" dy="2.2" font-size="10.4" fill="#4a4a4a">u</tspan><tspan x="14.2" dy="-1.6" font-size="9.3" fill="#555" textLength="26.4" lengthAdjust="spacingAndGlyphs">(G30)</tspan><tspan x="41.5" dy="-0.6" font-size="15.8">=0.294%</tspan></text>
<text transform="translate(532.60,578.40)" fill="#303030" font-size="20.5">ε<tspan x="7.7" dy="2.2" font-size="10.4" fill="#4a4a4a">u</tspan><tspan x="14.2" dy="-1.6" font-size="9.3" fill="#555" textLength="31.6" lengthAdjust="spacingAndGlyphs">(G30a)</tspan><tspan x="46.7" dy="-0.6" font-size="15.8">=0.297%</tspan></text>
<text transform="translate(532.60,608.80)" fill="#303030" font-size="20.5">ε<tspan x="7.7" dy="2.2" font-size="10.4" fill="#4a4a4a">u</tspan><tspan x="14.2" dy="-1.6" font-size="9.3" fill="#555" textLength="31.8" lengthAdjust="spacingAndGlyphs">(G30b)</tspan><tspan x="46.9" dy="-0.6" font-size="15.8">=0.299%</tspan></text>
<text transform="translate(532.60,639.20)" fill="#303030" font-size="20.5">ε<tspan x="7.7" dy="2.2" font-size="10.4" fill="#4a4a4a">u</tspan><tspan x="14.2" dy="-1.6" font-size="9.3" fill="#555" textLength="31.0" lengthAdjust="spacingAndGlyphs">(G30c)</tspan><tspan x="46.1" dy="-0.6" font-size="15.8">=0.305%</tspan></text>
</g>
<g id="panel-c">
<text transform="translate(3.3,765.2) scale(0.94,1)" font-size="42" fill="#111">c<tspan dx="5.5">)</tspan></text>
<line x1="336.60" y1="789.40" x2="336.60" y2="1078.80" stroke="#e3e3e3" stroke-width="1.7" />
<line x1="369.40" y1="789.40" x2="369.40" y2="1078.80" stroke="#e3e3e3" stroke-width="1.7" />
<line x1="454.00" y1="789.40" x2="454.00" y2="1078.80" stroke="#e3e3e3" stroke-width="1.7" />
<line x1="585.10" y1="789.40" x2="585.10" y2="1078.80" stroke="#e3e3e3" stroke-width="1.7" />
<text transform="translate(48.20,1047.77) scale(1.0500,1)" font-size="15.8" fill="#363636" text-anchor="end" >1.0</text>
<text transform="translate(48.20,1011.64) scale(1.0500,1)" font-size="15.8" fill="#363636" text-anchor="end" >2.0</text>
<text transform="translate(48.20,975.51) scale(1.0500,1)" font-size="15.8" fill="#363636" text-anchor="end" >3.0</text>
<text transform="translate(48.20,939.38) scale(1.0500,1)" font-size="15.8" fill="#363636" text-anchor="end" >4.0</text>
<text transform="translate(48.20,903.25) scale(1.0500,1)" font-size="15.8" fill="#363636" text-anchor="end" >5.0</text>
<text transform="translate(48.20,867.12) scale(1.0500,1)" font-size="15.8" fill="#363636" text-anchor="end" >6.0</text>
<text transform="translate(48.20,830.99) scale(1.0500,1)" font-size="15.8" fill="#363636" text-anchor="end" >7.0</text>
<text transform="translate(57.60,1083.90) scale(1.0500,1)" font-size="15.8" fill="#363636" text-anchor="end" >0.0</text>
<text transform="translate(15.00,938.20) rotate(-90)" font-size="19.6" fill="#161616" text-anchor="middle" >Stress [MPa]</text>
<text transform="translate(69.30,1107.60) scale(1.0500,1)" font-size="15.8" fill="#363636" text-anchor="middle" >0.0</text>
<text transform="translate(331.80,1107.60) scale(1.0500,1)" font-size="15.8" fill="#363636" text-anchor="middle" >0.45</text>
<text transform="translate(365.40,1107.60) scale(1.0500,1)" font-size="15.8" fill="#363636" text-anchor="middle" >0.5</text>
<text transform="translate(449.50,1107.60) scale(1.0500,1)" font-size="15.8" fill="#363636" text-anchor="middle" >0.66</text>
<text transform="translate(580.30,1107.60) scale(1.0500,1)" font-size="15.8" fill="#363636" text-anchor="middle" >0.9</text>
<text transform="translate(589.40,1071.40) scale(1.0600,1)" font-size="18.6" fill="#161616" text-anchor="start" >Strain [%]</text>
<path d="M84.00 1078.80 L86.00 1076.30 L88.00 1073.83 L90.00 1071.40 L92.00 1068.99 L94.00 1066.60 L96.00 1064.25 L98.00 1061.92 L100.00 1059.62 L102.00 1057.35 L104.00 1055.11 L106.00 1052.89 L108.00 1050.70 L110.00 1048.54 L112.00 1046.41 L114.00 1044.30 L116.00 1042.21 L118.00 1040.16 L120.00 1038.12 L122.00 1036.12 L124.00 1034.14 L126.00 1032.18 L128.00 1030.25 L130.00 1028.35 L132.00 1026.46 L134.00 1024.61 L136.00 1022.78 L138.00 1020.97 L140.00 1019.18 L142.00 1017.42 L144.00 1015.68 L146.00 1013.97 L148.00 1012.28 L150.00 1010.61 L152.00 1008.96 L154.00 1007.34 L156.00 1005.74 L158.00 1004.16 L160.00 1002.60 L162.00 1001.07 L164.00 999.55 L166.00 998.06 L168.00 996.59 L170.00 995.13 L172.00 993.70 L174.00 992.29 L176.00 990.90 L178.00 989.53 L180.00 988.18 L182.00 986.85 L184.00 985.54 L186.00 984.25 L188.00 982.98 L190.00 981.72 L192.00 980.49 L194.00 979.27 L196.00 978.07 L198.00 976.89 L200.00 975.73 L202.00 974.58 L204.00 973.45 L206.00 972.34 L208.00 971.25 L210.00 970.17 L212.00 969.11 L214.00 968.07 L216.00 967.04 L218.00 966.03 L220.00 965.04 L222.00 964.06 L224.00 963.09 L226.00 962.14 L228.00 961.21 L230.00 960.29 L232.00 959.39 L234.00 958.50 L236.00 957.62 L238.00 956.76 L240.00 955.91 L242.00 955.08 L244.00 954.26 L246.00 953.45 L248.00 952.66 L250.00 951.88 L252.00 951.11 L254.00 950.35 L256.00 949.61 L258.00 948.88 L260.00 948.16 L262.00 947.45 L264.00 946.76 L266.00 946.07 L268.00 945.40 L270.00 944.73 L272.00 944.08 L274.00 943.44 L276.00 942.81 L278.00 942.19 L280.00 941.58 L282.00 940.97 L284.00 940.38 L286.00 939.80 L288.00 939.23 L290.00 938.66 L292.00 938.11 L294.00 937.56 L296.00 937.02 L298.00 936.49 L300.00 935.96 L302.00 935.45 L304.00 934.94 L306.00 934.44 L308.00 933.95 L310.00 933.46 L312.00 932.98 L314.00 932.51 L316.00 932.04 L318.00 931.58 L320.00 931.13 L322.00 930.68 L324.00 930.23 L326.00 929.80 L328.00 929.36 L330.00 928.94 L332.00 928.51 L334.00 928.09 L334.50 927.99 L335.69 929.07 L336.85 930.19 L337.96 931.34 L339.03 932.53 L340.03 933.77 L340.97 935.06 L341.90 936.38 L342.82 937.69 L343.78 938.98 L344.79 940.22 L345.83 941.45 L346.86 942.68 L347.86 943.93 L348.83 945.20 L349.79 946.48 L350.75 947.77 L351.69 949.06 L352.62 950.37 L353.54 951.68 L354.44 953.01 L355.33 954.35 L356.20 955.70" fill="none" stroke="#2c2c2c" stroke-width="1.8" stroke-linejoin="round" />
<path d="M84.00 1078.80 L84.80 1077.53 L85.60 1076.26 L86.41 1075.00 L87.22 1073.73 L88.03 1072.47 L88.85 1071.22 L89.67 1069.96 L90.49 1068.71 L91.32 1067.46 L92.16 1066.21 L92.99 1064.97 L93.84 1063.73 L94.68 1062.49 L95.54 1061.25 L96.39 1060.02 L97.25 1058.79 L98.12 1057.57 L98.99 1056.35 L99.86 1055.13 L100.74 1053.91 L101.62 1052.70 L102.51 1051.49 L103.40 1050.29 L104.30 1049.08 L105.20 1047.89 L106.11 1046.69 L107.02 1045.50 L107.94 1044.31 L108.86 1043.13 L109.79 1041.95 L110.72 1040.78 L111.66 1039.60 L112.60 1038.44 L113.55 1037.27 L114.50 1036.12 L115.46 1034.96 L116.42 1033.81 L117.39 1032.67 L118.36 1031.52 L119.34 1030.39 L120.33 1029.25 L121.31 1028.13 L122.31 1027.00 L123.31 1025.89 L124.31 1024.77 L125.32 1023.66 L126.34 1022.56 L127.36 1021.46 L128.39 1020.37 L129.42 1019.28 L130.46 1018.20 L131.50 1017.12 L132.55 1016.05 L133.61 1014.98 L134.67 1013.92 L135.73 1012.87 L136.80 1011.82 L137.88 1010.77 L138.96 1009.73 L140.05 1008.70 L141.14 1007.67 L142.24 1006.65 L143.35 1005.64 L144.46 1004.63 L145.58 1003.63 L146.70 1002.63 L147.82 1001.64 L148.96 1000.66 L150.09 999.68 L151.24 998.71 L152.39 997.75 L153.54 996.79 L154.70 995.84 L155.87 994.90 L157.04 993.96 L158.21 993.03 L159.40 992.10 L160.58 991.19 L161.78 990.28 L162.97 989.37 L164.18 988.48 L165.38 987.59 L166.60 986.70 L167.81 985.83 L169.04 984.96 L170.26 984.10 L171.50 983.24 L172.73 982.40 L173.98 981.56 L175.22 980.72 L176.48 979.90 L177.73 979.08 L178.99 978.26 L180.26 977.46 L181.53 976.66 L182.80 975.87 L184.08 975.08 L185.36 974.31 L186.65 973.54 L187.94 972.77 L189.24 972.02 L190.53 971.26 L191.84 970.52 L193.14 969.78 L194.45 969.05 L195.77 968.33 L197.08 967.61 L198.40 966.90 L199.73 966.19 L201.05 965.49 L202.39 964.80 L203.72 964.11 L205.05 963.43 L206.39 962.76 L207.74 962.09 L209.08 961.42 L210.43 960.76 L211.78 960.11 L213.13 959.46 L214.48 958.81 L215.84 958.17 L217.20 957.54 L218.56 956.91 L219.93 956.29 L221.29 955.66 L222.66 955.05 L224.03 954.43 L225.40 953.83 L226.77 953.22 L228.15 952.62 L229.52 952.03 L230.90 951.44 L232.28 950.85 L233.66 950.26 L235.05 949.69 L236.43 949.11 L237.82 948.54 L239.21 947.97 L240.60 947.41 L241.99 946.85 L243.38 946.29 L244.78 945.74 L246.17 945.19 L247.57 944.65 L248.97 944.10 L250.37 943.57 L251.77 943.03 L253.17 942.50 L254.58 941.98 L255.98 941.45 L257.39 940.93 L258.80 940.42 L260.21 939.90 L261.62 939.39 L263.03 938.89 L264.44 938.38 L265.86 937.88 L267.27 937.39 L268.69 936.89 L270.11 936.40 L271.53 935.91 L272.95 935.43 L274.37 934.94 L275.79 934.46 L277.21 933.99 L278.63 933.51 L280.06 933.04 L281.48 932.57 L282.91 932.11 L284.33 931.64 L285.76 931.18 L287.19 930.72 L288.62 930.27 L290.05 929.81 L291.48 929.36 L292.91 928.91 L294.34 928.46 L295.77 928.02 L297.20 927.57 L298.64 927.13 L300.07 926.69 L301.51 926.25 L302.94 925.82 L304.38 925.38 L305.81 924.95 L307.25 924.52 L308.69 924.09 L310.13 923.66 L311.56 923.23 L313.00 922.81 L314.44 922.38 L315.88 921.96 L317.32 921.54 L318.76 921.12 L320.20 920.70 L321.64 920.28 L323.08 919.86 L324.52 919.44 L325.96 919.03 L327.40 918.61 L328.84 918.20 L330.29 917.78 L331.73 917.37 L333.17 916.96 L334.61 916.55 L336.05 916.13 L337.50 915.72 L338.94 915.31 L340.38 914.90 L341.82 914.49 L343.27 914.08 L344.71 913.66 L346.15 913.25 L347.59 912.84 L349.04 912.43 L350.48 912.02 L351.93 911.63 L353.38 911.26 L354.84 910.96 L356.32 910.73 L357.81 910.57 L359.30 910.49 L360.80 910.49 L362.29 910.59 L363.76 910.80 L365.22 911.13 L366.64 911.56 L368.03 912.11 L369.35 912.77 L370.60 913.57 L371.76 914.50 L372.85 915.53 L373.87 916.62 L374.86 917.74 L375.84 918.88 L376.82 920.01 L377.81 921.14 L378.79 922.27 L379.77 923.41 L380.74 924.55 L381.70 925.71 L382.64 926.88 L383.56 928.06 L384.46 929.24 L385.33 930.41 L386.14 931.53 L386.90 932.60" fill="none" stroke="#333" stroke-width="2.3" stroke-linejoin="round" stroke-dasharray="2.3 4.6"/>
<path d="M84.00 1078.80 L84.74 1077.50 L85.49 1076.20 L86.24 1074.90 L86.99 1073.60 L87.75 1072.30 L88.51 1071.01 L89.28 1069.72 L90.05 1068.44 L90.83 1067.15 L91.61 1065.87 L92.39 1064.59 L93.18 1063.32 L93.98 1062.05 L94.77 1060.78 L95.58 1059.51 L96.39 1058.25 L97.20 1056.99 L98.02 1055.73 L98.84 1054.48 L99.67 1053.22 L100.50 1051.98 L101.34 1050.73 L102.18 1049.49 L103.03 1048.26 L103.89 1047.02 L104.74 1045.79 L105.61 1044.57 L106.48 1043.34 L107.35 1042.12 L108.23 1040.91 L109.11 1039.70 L110.00 1038.49 L110.90 1037.29 L111.80 1036.09 L112.71 1034.89 L113.62 1033.70 L114.54 1032.51 L115.46 1031.33 L116.39 1030.15 L117.32 1028.98 L118.26 1027.81 L119.20 1026.64 L120.15 1025.48 L121.11 1024.32 L122.07 1023.17 L123.03 1022.03 L124.00 1020.88 L124.98 1019.74 L125.96 1018.61 L126.95 1017.48 L127.95 1016.36 L128.95 1015.24 L129.95 1014.13 L130.96 1013.02 L131.98 1011.92 L133.00 1010.82 L134.02 1009.72 L135.06 1008.63 L136.09 1007.55 L137.14 1006.47 L138.18 1005.40 L139.24 1004.33 L140.30 1003.27 L141.36 1002.21 L142.43 1001.16 L143.50 1000.11 L144.58 999.07 L145.66 998.03 L146.75 997.00 L147.85 995.97 L148.94 994.95 L150.05 993.93 L151.15 992.92 L152.27 991.91 L153.38 990.91 L154.50 989.92 L155.63 988.92 L156.76 987.94 L157.89 986.95 L159.03 985.98 L160.17 985.00 L161.31 984.03 L162.46 983.07 L163.62 982.11 L164.77 981.16 L165.93 980.21 L167.10 979.26 L168.27 978.32 L169.44 977.38 L170.61 976.45 L171.79 975.53 L172.98 974.60 L174.16 973.69 L175.36 972.77 L176.55 971.87 L177.75 970.96 L178.95 970.07 L180.15 969.17 L181.36 968.29 L182.58 967.40 L183.79 966.52 L185.01 965.65 L186.23 964.78 L187.46 963.92 L188.69 963.06 L189.92 962.20 L191.16 961.36 L192.40 960.51 L193.64 959.67 L194.89 958.84 L196.14 958.01 L197.39 957.18 L198.65 956.36 L199.91 955.55 L201.17 954.74 L202.43 953.93 L203.70 953.13 L204.97 952.33 L206.25 951.54 L207.52 950.75 L208.80 949.97 L210.09 949.20 L211.37 948.42 L212.66 947.65 L213.95 946.89 L215.24 946.13 L216.54 945.38 L217.84 944.63 L219.14 943.88 L220.45 943.14 L221.75 942.40 L223.06 941.67 L224.37 940.94 L225.69 940.22 L227.00 939.50 L228.32 938.78 L229.64 938.07 L230.96 937.36 L232.29 936.66 L233.61 935.96 L234.94 935.26 L236.27 934.57 L237.61 933.88 L238.94 933.20 L240.28 932.52 L241.62 931.84 L242.96 931.17 L244.30 930.50 L245.64 929.83 L246.99 929.17 L248.34 928.51 L249.68 927.85 L251.03 927.20 L252.38 926.55 L253.74 925.90 L255.09 925.25 L256.45 924.61 L257.80 923.97 L259.16 923.34 L260.52 922.70 L261.88 922.07 L263.24 921.44 L264.61 920.81 L265.97 920.19 L267.34 919.57 L268.70 918.95 L270.07 918.34 L271.44 917.72 L272.81 917.11 L274.18 916.51 L275.56 915.90 L276.93 915.30 L278.31 914.70 L279.68 914.11 L281.06 913.51 L282.44 912.92 L283.82 912.34 L285.20 911.75 L286.58 911.17 L287.97 910.59 L289.35 910.02 L290.74 909.45 L292.13 908.88 L293.52 908.32 L294.91 907.76 L296.30 907.20 L297.70 906.64 L299.09 906.09 L300.49 905.54 L301.89 905.00 L303.28 904.46 L304.68 903.92 L306.09 903.39 L307.49 902.86 L308.89 902.33 L310.30 901.81 L311.71 901.29 L313.12 900.77 L314.53 900.26 L315.94 899.75 L317.35 899.25 L318.76 898.75 L320.18 898.25 L321.60 897.76 L323.01 897.27 L324.43 896.79 L325.86 896.31 L327.28 895.83 L328.70 895.36 L330.13 894.89 L331.55 894.43 L332.98 893.97 L334.41 893.51 L335.84 893.06 L337.27 892.62 L338.71 892.18 L340.14 891.74 L341.58 891.31 L343.02 890.88 L344.46 890.46 L345.90 890.04 L347.34 889.62 L348.78 889.21 L350.22 888.81 L351.67 888.41 L353.12 888.01 L354.57 887.62 L356.02 887.24 L357.47 886.86 L358.92 886.49 L360.37 886.12 L361.83 885.75 L363.28 885.39 L364.74 885.04 L366.20 884.69 L367.66 884.34 L369.12 884.01 L370.58 883.67 L372.05 883.35 L373.51 883.02 L374.98 882.71 L376.45 882.40 L377.92 882.09 L379.39 881.79 L380.86 881.50 L382.33 881.21 L383.80 880.93 L385.28 880.65 L386.75 880.38 L388.23 880.12 L389.71 879.86 L391.18 879.61 L392.66 879.36 L394.14 879.12 L395.63 878.89 L397.11 878.66 L398.59 878.44 L400.08 878.23 L401.56 878.02 L403.05 877.81 L404.54 877.62 L406.02 877.43 L407.51 877.25 L409.00 877.07 L410.49 876.90 L411.98 876.74 L413.48 876.58 L414.97 876.43 L416.46 876.29 L417.96 876.16 L419.45 876.03 L420.94 875.91 L422.44 875.79 L423.94 875.68 L425.43 875.58 L426.93 875.48 L428.42 875.37 L429.92 875.23 L431.40 875.06 L432.89 874.87 L434.38 874.71 L435.87 874.59 L437.37 874.51 L438.87 874.45 L440.37 874.43 L441.87 874.43 L443.36 874.48 L444.86 874.59 L446.34 874.78 L447.81 875.04 L449.27 875.39 L450.71 875.80 L452.12 876.29 L453.48 876.88 L454.77 877.60 L455.97 878.47 L457.07 879.47 L458.09 880.56 L459.04 881.71 L459.96 882.90 L460.86 884.10 L461.75 885.30 L462.66 886.49 L463.57 887.68 L464.49 888.87 L465.39 890.07 L466.28 891.28 L467.15 892.50 L468.01 893.73 L468.85 894.96 L469.66 896.19 L470.40 897.34 L471.01 898.31 L471.50 899.10" fill="none" stroke="#2c2c2c" stroke-width="2.15" stroke-linejoin="round" stroke-dasharray="4.6 0.4 1.0 0.4"/>
<path d="M84.00 1078.80 L84.78 1077.52 L85.56 1076.24 L86.35 1074.96 L87.13 1073.68 L87.93 1072.41 L88.72 1071.14 L89.52 1069.87 L90.33 1068.60 L91.14 1067.34 L91.95 1066.08 L92.77 1064.82 L93.59 1063.57 L94.42 1062.32 L95.25 1061.07 L96.08 1059.82 L96.92 1058.58 L97.77 1057.34 L98.62 1056.10 L99.47 1054.87 L100.33 1053.64 L101.19 1052.41 L102.05 1051.19 L102.93 1049.96 L103.80 1048.75 L104.68 1047.53 L105.57 1046.32 L106.46 1045.11 L107.35 1043.91 L108.25 1042.71 L109.15 1041.51 L110.06 1040.32 L110.97 1039.12 L111.89 1037.94 L112.81 1036.75 L113.73 1035.57 L114.66 1034.40 L115.60 1033.22 L116.54 1032.05 L117.48 1030.89 L118.43 1029.73 L119.38 1028.57 L120.34 1027.41 L121.30 1026.26 L122.27 1025.11 L123.24 1023.97 L124.21 1022.83 L125.19 1021.69 L126.18 1020.56 L127.16 1019.43 L128.16 1018.31 L129.15 1017.19 L130.15 1016.07 L131.16 1014.95 L132.17 1013.84 L133.18 1012.74 L134.19 1011.63 L135.22 1010.54 L136.24 1009.44 L137.27 1008.35 L138.30 1007.26 L139.34 1006.18 L140.38 1005.09 L141.42 1004.02 L142.47 1002.94 L143.52 1001.87 L144.57 1000.80 L145.63 999.74 L146.69 998.68 L147.76 997.62 L148.82 996.57 L149.90 995.52 L150.97 994.48 L152.05 993.43 L153.13 992.40 L154.22 991.36 L155.31 990.33 L156.40 989.30 L157.50 988.28 L158.59 987.26 L159.70 986.24 L160.80 985.23 L161.91 984.22 L163.02 983.21 L164.14 982.21 L165.26 981.21 L166.38 980.21 L167.50 979.22 L168.63 978.23 L169.76 977.24 L170.89 976.26 L172.03 975.28 L173.17 974.30 L174.31 973.33 L175.45 972.36 L176.60 971.40 L177.75 970.43 L178.90 969.47 L180.06 968.52 L181.22 967.56 L182.38 966.61 L183.54 965.66 L184.71 964.72 L185.87 963.78 L187.04 962.84 L188.22 961.90 L189.39 960.97 L190.57 960.04 L191.74 959.11 L192.93 958.19 L194.11 957.26 L195.29 956.34 L196.48 955.42 L197.67 954.51 L198.86 953.60 L200.05 952.69 L201.24 951.78 L202.44 950.87 L203.64 949.97 L204.83 949.07 L206.03 948.17 L207.24 947.27 L208.44 946.37 L209.65 945.48 L210.85 944.59 L212.06 943.70 L213.27 942.82 L214.49 941.94 L215.70 941.05 L216.92 940.18 L218.13 939.30 L219.35 938.43 L220.58 937.56 L221.80 936.69 L223.02 935.82 L224.25 934.96 L225.48 934.10 L226.71 933.24 L227.94 932.38 L229.17 931.53 L230.41 930.68 L231.65 929.83 L232.89 928.99 L234.13 928.15 L235.37 927.31 L236.61 926.47 L237.86 925.63 L239.11 924.80 L240.36 923.97 L241.61 923.15 L242.87 922.32 L244.12 921.50 L245.38 920.69 L246.64 919.87 L247.90 919.06 L249.16 918.25 L250.43 917.44 L251.69 916.64 L252.96 915.84 L254.23 915.04 L255.51 914.25 L256.78 913.46 L258.06 912.67 L259.34 911.89 L260.62 911.10 L261.90 910.32 L263.18 909.55 L264.47 908.78 L265.75 908.01 L267.04 907.24 L268.34 906.48 L269.63 905.72 L270.92 904.96 L272.22 904.21 L273.52 903.46 L274.82 902.71 L276.13 901.97 L277.43 901.23 L278.74 900.49 L280.05 899.76 L281.36 899.03 L282.67 898.31 L283.98 897.58 L285.30 896.87 L286.62 896.15 L287.94 895.44 L289.26 894.73 L290.59 894.03 L291.91 893.33 L293.24 892.63 L294.57 891.94 L295.90 891.25 L297.24 890.56 L298.57 889.88 L299.91 889.20 L301.25 888.53 L302.59 887.86 L303.94 887.19 L305.28 886.53 L306.63 885.87 L307.98 885.22 L309.33 884.57 L310.69 883.92 L312.04 883.28 L313.40 882.64 L314.76 882.00 L316.12 881.38 L317.48 880.75 L318.85 880.13 L320.22 879.51 L321.58 878.90 L322.96 878.29 L324.33 877.68 L325.70 877.08 L327.08 876.49 L328.46 875.90 L329.84 875.31 L331.22 874.73 L332.60 874.15 L333.99 873.57 L335.38 873.00 L336.77 872.44 L338.16 871.87 L339.55 871.32 L340.94 870.76 L342.34 870.21 L343.74 869.67 L345.13 869.12 L346.53 868.59 L347.94 868.05 L349.34 867.52 L350.74 867.00 L352.15 866.48 L353.56 865.96 L354.97 865.45 L356.38 864.94 L357.79 864.43 L359.21 863.93 L360.62 863.43 L362.04 862.94 L363.45 862.45 L364.87 861.96 L366.29 861.48 L367.72 861.00 L369.14 860.53 L370.56 860.05 L371.99 859.59 L373.41 859.12 L374.84 858.66 L376.27 858.21 L377.70 857.76 L379.13 857.31 L380.56 856.86 L382.00 856.42 L383.43 855.98 L384.87 855.55 L386.30 855.11 L387.74 854.69 L389.18 854.26 L390.62 853.84 L392.06 853.42 L393.50 853.01 L394.94 852.60 L396.39 852.19 L397.83 851.78 L399.28 851.38 L400.72 850.98 L402.17 850.59 L403.62 850.20 L405.07 849.81 L406.52 849.42 L407.97 849.04 L409.42 848.66 L410.87 848.28 L412.32 847.90 L413.78 847.53 L415.23 847.16 L416.68 846.80 L418.14 846.44 L419.60 846.07 L421.05 845.72 L422.51 845.36 L423.97 845.01 L425.43 844.66 L426.89 844.31 L428.34 843.97 L429.81 843.62 L431.27 843.28 L432.73 842.95 L434.19 842.61 L435.65 842.28 L437.12 841.95 L438.58 841.62 L440.04 841.29 L441.51 840.97 L442.97 840.64 L444.44 840.32 L445.90 840.01 L447.37 839.69 L448.84 839.38 L450.30 839.06 L451.77 838.75 L453.24 838.44 L454.71 838.14 L456.18 837.83 L457.64 837.53 L459.11 837.23 L460.58 836.93 L462.05 836.63 L463.52 836.33 L464.99 836.04 L466.47 835.74 L467.94 835.45 L469.41 835.16 L470.88 834.87 L472.35 834.58 L473.82 834.29 L475.30 834.00 L476.77 833.72 L478.24 833.43 L479.71 833.15 L481.19 832.87 L482.66 832.59 L484.14 832.31 L485.61 832.03 L487.08 831.75 L488.56 831.47 L490.03 831.20 L491.51 830.92 L492.98 830.64 L494.45 830.37 L495.93 830.10 L497.40 829.82 L498.88 829.55 L500.35 829.28 L501.83 829.00 L503.30 828.73 L504.78 828.46 L506.25 828.19 L507.73 827.92 L509.21 827.65 L510.68 827.37 L512.16 827.10 L513.63 826.83 L515.11 826.56 L516.58 826.29 L518.06 826.02 L519.53 825.75 L521.01 825.48 L522.48 825.21 L523.96 824.94 L525.43 824.66 L526.91 824.39 L528.38 824.12 L529.86 823.85 L531.33 823.57 L532.81 823.30 L534.28 823.02 L535.76 822.75 L537.23 822.47 L538.71 822.20 L540.18 821.93 L541.66 821.69 L543.15 821.48 L544.63 821.31 L546.13 821.15 L547.62 821.01 L549.11 820.87 L550.61 820.75 L552.10 820.64 L553.60 820.54 L555.10 820.46 L556.60 820.38 L558.10 820.32 L559.59 820.27 L561.09 820.24 L562.59 820.22 L564.09 820.21 L565.59 820.21 L567.09 820.22 L568.59 820.24 L570.09 820.27 L571.59 820.30 L573.09 820.34 L574.59 820.41 L576.08 820.53 L577.56 820.74 L579.02 821.04 L580.46 821.44 L581.88 821.92 L583.27 822.47 L584.64 823.08 L585.97 823.76 L587.25 824.53 L588.47 825.38 L589.64 826.31 L590.77 827.30 L591.87 828.32 L592.94 829.37 L593.99 830.44 L595.03 831.52 L596.04 832.63 L597.03 833.75 L598.01 834.89 L598.95 836.05 L599.87 837.24 L600.77 838.44 L601.63 839.66 L602.47 840.91 L603.27 842.16 L604.03 843.41 L604.74 844.63 L605.40 845.80" fill="none" stroke="#2c2c2c" stroke-width="1.95" stroke-linejoin="round" stroke-dasharray="6.4 3.6"/>
<line x1="84.00" y1="789.40" x2="84.00" y2="1079.40" stroke="#3a3a3a" stroke-width="1.5" />
<line x1="83.30" y1="1078.80" x2="667.40" y2="1078.80" stroke="#333" stroke-width="1.3" />
<path d="M94.5 797.4H128.4" stroke="#484848" stroke-width="1.8" fill="none"/>
<path d="M95.5 819.8H128.4" stroke="#777" stroke-width="1.9" stroke-dasharray="1.8 3.75" fill="none"/>
<path d="M94.5 841.6H128.4" stroke="#484848" stroke-width="1.7" stroke-dasharray="4.2 1.0 1.1 1.0" fill="none"/>
<path d="M94.5 863.4H128.4" stroke="#484848" stroke-width="1.9" stroke-dasharray="4.9 2.4" fill="none"/>
<text transform="translate(131.90,802.90) scale(0.9800,1)" font-size="15.8" fill="#2e2e2e" text-anchor="start" >G30</text>
<text transform="translate(131.90,825.00) scale(0.9800,1)" font-size="15.8" fill="#2e2e2e" text-anchor="start" >G30a</text>
<text transform="translate(131.90,847.10) scale(0.9800,1)" font-size="15.8" fill="#2e2e2e" text-anchor="start" >G30b</text>
<text transform="translate(131.90,869.20) scale(0.9800,1)" font-size="15.8" fill="#2e2e2e" text-anchor="start" >G30c</text>
</g>
</g>
</svg>
</body></html>
